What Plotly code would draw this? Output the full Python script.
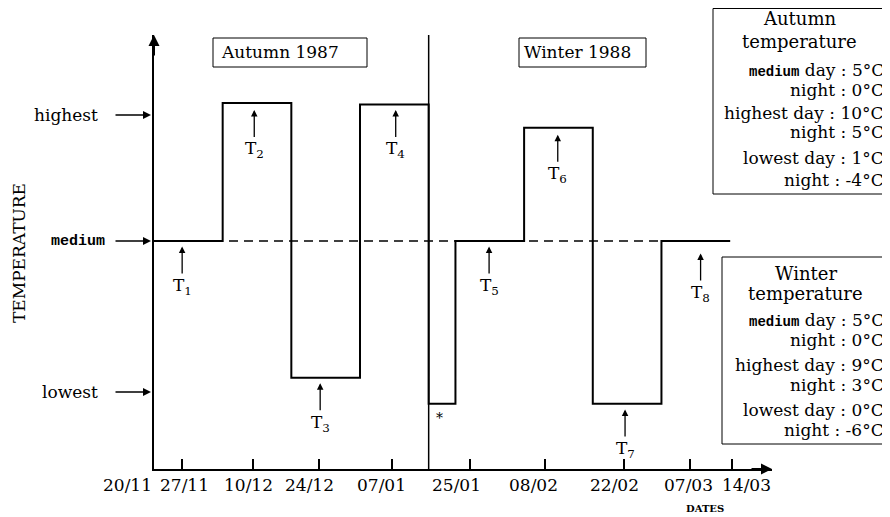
import plotly.graph_objects as go

# ---------------- data ----------------
# x: period index along the date axis, y: relative temperature level (medium = 0)
segment_edges = [0, 1, 2, 3, 4, 4.39, 5.39, 6.39, 7.39, 8.39]
segment_levels = [0, 1.0, -0.99, 0.99, -1.18, 0, 0.82, -1.18, 0]
medium_level = 0
season_break = 4

date_ticks = [0.41, 1.44, 2.41, 3.46, 4.60, 5.70, 6.85, 7.81, 8.42]
date_label_pos = [-0.39, 0.45, 1.38, 2.27, 3.31, 4.40, 5.53, 6.71, 7.79, 8.63]
date_labels = ["20/11", "27/11", "10/12", "24/12", "07/01", "25/01", "08/02", "22/02", "07/03", "14/03"]

level_names = ["highest", "medium", "lowest"]
level_marks = [0.913, 0.0, -1.094]

t_names = ["1", "2", "3", "4", "5", "6", "7", "8"]
t_x = [0.41, 1.46, 2.42, 3.52, 4.88, 5.88, 6.86, 7.96]
t_y = [-0.04, 0.95, -1.03, 0.95, -0.04, 0.77, -1.22, -0.09]

star_x, star_y = 4.16, -1.28

season_titles = ["Autumn 1987", "Winter 1988"]

autumn_levels = ["medium", "", "highest", "", "lowest", ""]
autumn_parts = ["day", "night", "day", "night", "day", "night"]
autumn_values = ["5", "0", "10", "5", "1", "-4"]
winter_levels = ["medium", "", "highest", "", "lowest", ""]
winter_parts = ["day", "night", "day", "night", "day", "night"]
winter_values = ["5", "0", "9", "3", "0", "-6"]

# ---------------- layout helpers ----------------
# The page body has an 8px default margin, so the figure is drawn 8px in.
OFF = 8
WIN_W, WIN_H = 890, 517
PL, PR, PT, PB = 154, 772, 35, 469        # plot area in window pixels
X_RANGE = [0, 9]
Y_RANGE = [-1.652, 1.493]
PW, PH = PR - PL, PB - PT


def px(p):
    return (p - PL) / PW


def py(p):
    return (PB - p) / PH


def xdata2paper(v):
    return (v - X_RANGE[0]) / (X_RANGE[1] - X_RANGE[0])


SERIF = "DejaVu Serif"
MONO = "Liberation Mono"
BLACK = "black"

fig = go.Figure()

# dashed medium reference line
fig.add_trace(go.Scatter(
    x=[segment_edges[0], segment_edges[-1]], y=[medium_level, medium_level],
    mode="lines", line=dict(color=BLACK, width=1.4, dash="9px,6px"),
    hoverinfo="skip"))

# step temperature profile
fig.add_trace(go.Scatter(
    x=segment_edges, y=segment_levels + [segment_levels[-1]],
    mode="lines", line=dict(color=BLACK, width=2, shape="hv"),
    hoverinfo="skip"))

shapes = []
# season separator
shapes.append(dict(type="line", xref="x", yref="paper", x0=season_break, x1=season_break,
                   y0=0, y1=1, line=dict(color=BLACK, width=1.5)))

# season title boxes
for (x0, x1) in [(213, 367), (519, 646)]:
    shapes.append(dict(type="rect", xref="paper", yref="paper",
                       x0=px(x0), x1=px(x1), y0=py(67), y1=py(38),
                       line=dict(color=BLACK, width=1)))

# legend boxes
shapes.append(dict(type="rect", xref="paper", yref="paper",
                   x0=px(713), x1=px(888), y0=py(194), y1=py(8.5),
                   line=dict(color=BLACK, width=1)))
shapes.append(dict(type="rect", xref="paper", yref="paper",
                   x0=px(722), x1=px(888), y0=py(444), y1=py(257),
                   line=dict(color=BLACK, width=1)))

ann = []
# axis arrows
ann.append(dict(x=0, y=Y_RANGE[1], xref="x", yref="y", ax=0, ay=22, text="",
                showarrow=True, arrowhead=2, arrowsize=1.1, arrowwidth=2, arrowcolor=BLACK))
ann.append(dict(x=X_RANGE[1], y=Y_RANGE[0], xref="x", yref="y", ax=-22, ay=0, text="",
                showarrow=True, arrowhead=2, arrowsize=1.1, arrowwidth=2, arrowcolor=BLACK))

# level labels with arrows
for name, lv in zip(level_names, level_marks):
    if name == "medium":
        fnt = dict(family=MONO, size=15, color=BLACK)
        txt = "<b>%s</b>" % name
        right = 107
    else:
        fnt = dict(family=SERIF, size=17, color=BLACK)
        txt = name
        right = 100
    ann.append(dict(x=px(right), y=lv, xref="paper", yref="y", text=txt,
                    showarrow=False, xanchor="right", yanchor="middle", font=fnt))
    ann.append(dict(x=px(151), y=lv, xref="paper", yref="y", ax=-37, ay=0, text="",
                    showarrow=True, arrowhead=2, arrowsize=1.0, arrowwidth=1.6, arrowcolor=BLACK))

# T markers
for n, x, y in zip(t_names, t_x, t_y):
    ann.append(dict(x=x, y=y, xref="x", yref="y", ax=0, ay=40,
                    text="T<sub>%s</sub>" % n, showarrow=True, arrowhead=2, arrowsize=1.0,
                    arrowwidth=1.3, arrowcolor=BLACK, font=dict(family=SERIF, size=17, color=BLACK)))

ann.append(dict(x=star_x, y=star_y, xref="x", yref="y", text="*", showarrow=False,
                xanchor="center", font=dict(family=SERIF, size=14, color=BLACK)))

# season title texts
for title, tx in zip(season_titles, [219, 522]):
    ann.append(dict(x=px(tx), y=py(52.5), xref="paper", yref="paper", text=title, showarrow=False,
                    xanchor="left", yanchor="middle", font=dict(family=SERIF, size=17, color=BLACK)))

# date labels
for pos, lab in zip(date_label_pos, date_labels):
    ann.append(dict(x=xdata2paper(pos), y=py(485), xref="paper", yref="paper", text=lab,
                    showarrow=False, xanchor="center", yanchor="middle",
                    font=dict(family=SERIF, size=17, color=BLACK)))

# axis titles
ann.append(dict(x=px(19), y=py(253), xref="paper", yref="paper", text="TEMPERATURE", textangle=-90,
                showarrow=False, xanchor="center", yanchor="middle",
                font=dict(family=SERIF, size=17, color=BLACK)))
ann.append(dict(x=px(705), y=py(508), xref="paper", yref="paper", text="<b>DATES</b>",
                showarrow=False, xanchor="center", yanchor="middle",
                font=dict(family=SERIF, size=10, color=BLACK)))


def legend_box(cx, title_ys, line_ys, right, levels, parts, values, season):
    for t, yy in zip([season, "temperature"], title_ys):
        ann.append(dict(x=px(cx), y=py(yy), xref="paper", yref="paper", text=t,
                        showarrow=False, xanchor="center", yanchor="middle",
                        font=dict(family=SERIF, size=18, color=BLACK)))
    for lv, part, val, yy in zip(levels, parts, values, line_ys):
        if lv == "medium":
            head = "<span style=\"font-family:Liberation Mono;font-size:14px\"><b>medium</b></span> "
        elif lv:
            head = lv + " "
        else:
            head = ""
        txt = "%s%s : %s°C" % (head, part, val)
        ann.append(dict(x=px(right), y=py(yy), xref="paper", yref="paper", text=txt,
                        showarrow=False, xanchor="right", yanchor="middle",
                        font=dict(family=SERIF, size=17, color=BLACK)))


legend_box(800, [18, 42], [70, 90, 113, 132, 158, 180], 886,
           autumn_levels, autumn_parts, autumn_values, "Autumn")
legend_box(806, [273, 293], [320, 340, 365, 385, 410, 430], 886,
           winter_levels, winter_parts, winter_values, "Winter")

fig.update_layout(
    width=WIN_W - OFF, height=WIN_H - OFF,
    margin=dict(l=PL - OFF, r=WIN_W - PR, t=PT - OFF, b=WIN_H - PB),
    paper_bgcolor="white", plot_bgcolor="white",
    showlegend=False,
    shapes=shapes, annotations=ann,
    xaxis=dict(range=X_RANGE, showgrid=False, zeroline=False, showline=True,
               linecolor=BLACK, linewidth=2, ticks="inside", ticklen=10, tickwidth=1.5,
               tickcolor=BLACK, tickvals=date_ticks, showticklabels=False, fixedrange=True),
    yaxis=dict(range=Y_RANGE, showgrid=False, zeroline=False, showline=True,
               linecolor=BLACK, linewidth=2, showticklabels=False, ticks="", fixedrange=True),
)

fig.write_html("out.html")
